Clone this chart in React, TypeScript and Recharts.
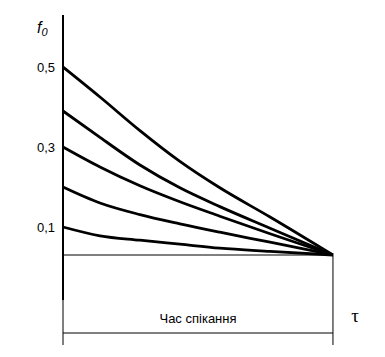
import { LineChart, Line, XAxis, YAxis, ReferenceLine } from 'recharts'

// sintering time, normalised 0..1 (curves meet at 1)
const tau = [0, 0.137, 0.285, 0.433, 0.581, 0.767, 1]

const curveA = [0.5, 0.425, 0.341, 0.264, 0.198, 0.125, 0.03]
const curveB = [0.39, 0.324, 0.255, 0.198, 0.151, 0.097, 0.03]
const curveC = [0.3, 0.25, 0.203, 0.163, 0.127, 0.083, 0.03]
const curveD = [0.2, 0.16, 0.131, 0.108, 0.087, 0.062, 0.03]
const curveE = [0.1, 0.078, 0.067, 0.057, 0.047, 0.039, 0.03]

const yTicks = [0.1, 0.3, 0.5]
const endValue = 0.03
const bracketLevel = -0.165
const bracketBottom = -0.195
const axisBottom = -0.0825

const data = tau.map((t, i) => ({
  t,
  a: curveA[i],
  b: curveB[i],
  c: curveC[i],
  d: curveD[i],
  e: curveE[i],
}))

const series = ['a', 'b', 'c', 'd', 'e']

export default function App() {
  return (
    <div style={{ position: 'absolute', left: 0, top: 0, width: 385, height: 357, background: '#fff' }}>
      <LineChart
        width={385}
        height={357}
        data={data}
        margin={{ top: 15, right: 21, bottom: 57, left: 0 }}
      >
        <XAxis
          dataKey="t"
          type="number"
          domain={[0, 1.115]}
          tick={false}
          tickLine={false}
          height={0}
          axisLine={{ stroke: '#000', strokeWidth: 2 }}
        />
        <YAxis
          type="number"
          domain={[axisBottom, 0.63]}
          ticks={yTicks}
          width={63}
          tickLine={false}
          tickSize={0}
          tickMargin={8}
          tickFormatter={(v: number) => String(v).replace('.', ',')}
          tick={{ fill: '#000', fontSize: 13, fontFamily: 'Liberation Sans, Arial, sans-serif' }}
          axisLine={{ stroke: '#000', strokeWidth: 2 }}
        />
        <ReferenceLine
          segment={[{ x: 0, y: endValue }, { x: 1, y: endValue }]}
          stroke="#000"
          strokeWidth={1}
        />
        <ReferenceLine
          segment={[{ x: 1, y: endValue }, { x: 1, y: bracketBottom }]}
          stroke="#000"
          strokeWidth={1}
          ifOverflow="visible"
        />
        <ReferenceLine
          segment={[{ x: 0, y: axisBottom }, { x: 0, y: bracketBottom }]}
          stroke="#000"
          strokeWidth={1}
          ifOverflow="visible"
        />
        <ReferenceLine
          segment={[{ x: 0, y: bracketLevel }, { x: 1, y: bracketLevel }]}
          stroke="#000"
          strokeWidth={1}
          ifOverflow="visible"
        />
        {series.map((k) => (
          <Line
            key={k}
            dataKey={k}
            type="monotone"
            stroke="#000"
            strokeWidth={2.8}
            dot={false}
            activeDot={false}
            isAnimationActive={false}
          />
        ))}
      </LineChart>
      <svg
        width={385}
        height={357}
        style={{ position: 'absolute', left: 0, top: 0, pointerEvents: 'none' }}
      >
        <text x={37} y={33} fontSize={16} fontStyle="italic" fontFamily="Liberation Sans, Arial, sans-serif">
          f
          <tspan fontSize={11} dy={3}>0</tspan>
        </text>
        <text x={198} y={323} fontSize={13} textAnchor="middle" fontFamily="Liberation Sans, Arial, sans-serif">
          Час спікання
        </text>
        <text x={355} y={322} fontSize={19} textAnchor="middle" fontFamily="Liberation Serif, serif">
          τ
        </text>
      </svg>
    </div>
  )
}
